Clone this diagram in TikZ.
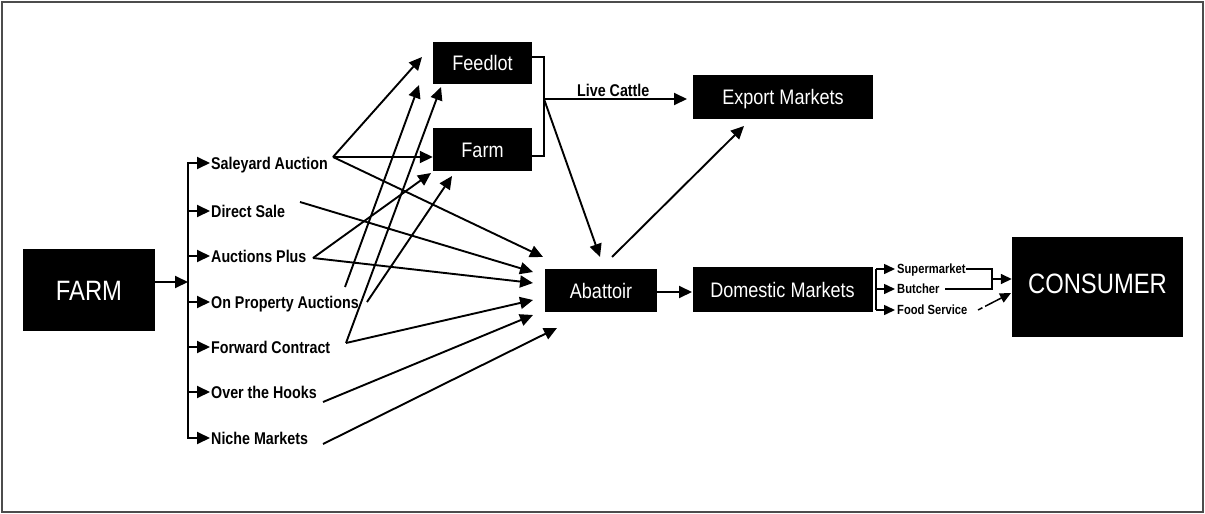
\documentclass[tikz,border=0pt]{standalone}
\usepackage{fontspec}
\setmainfont{Liberation Sans}
\newfontfamily\labfont[FakeStretch=0.84]{Liberation Sans}
\newfontfamily\boxfontA[FakeStretch=0.86]{Liberation Sans}
\newfontfamily\bigfontA[FakeStretch=0.85]{Liberation Sans}
\usetikzlibrary{arrows.meta}
\begin{document}
\begin{tikzpicture}[x=1pt,y=-1pt,
  ln/.style={line width=1.9pt},
  arr/.style={line width=1.9pt,-{Triangle[length=13pt,width=12pt]}},
  sarr/.style={line width=1.5pt,-{Triangle[length=11pt,width=10pt]}},
  blk/.style={fill=black,text=white,inner sep=0pt,
    font=\boxfontA\fontsize{21}{21}\selectfont,text height=15pt,text depth=0pt},
  bigblk/.style={blk,font=\bigfontA\fontsize{28}{28}\selectfont,text height=20pt},
  lab/.style={anchor=base west,inner sep=0pt,font=\labfont\bfseries\fontsize{17}{17}\selectfont},
  slab/.style={anchor=base west,inner sep=0pt,font=\labfont\bfseries\fontsize{13.3}{14}\selectfont},
]
\useasboundingbox (0,0) rectangle (1205,514);
\draw[black!70,line width=1.3pt] (2,2) rectangle (1203,512);

% boxes
\node[bigblk,minimum width=132pt,minimum height=82pt] (farmL) at (89,290) {FARM};
\node[blk,minimum width=99pt,minimum height=42pt] (feedlot) at (482.5,63) {Feedlot};
\node[blk,minimum width=99pt,minimum height=43pt] (farmF) at (482.5,149.5) {Farm};
\node[blk,minimum width=180pt,minimum height=44pt] (export) at (783,97) {Export Markets};
\node[blk,minimum width=112pt,minimum height=43pt] (abattoir) at (601,290.5) {Abattoir};
\node[blk,minimum width=180pt,minimum height=45pt] (domestic) at (782.5,289.5) {Domestic Markets};
\node[bigblk,minimum width=171pt,minimum height=100pt,text depth=8pt] (consumer) at (1097.5,287) {CONSUMER};

% first-level labels
\node[lab] (l1) at (211,169) {Saleyard Auction};
\node[lab] (l2) at (211,217) {Direct Sale};
\node[lab] (l3) at (211,262) {Auctions Plus};
\node[lab] (l4) at (211,308) {On Property Auctions};
\node[lab] (l5) at (211,353) {Forward Contract};
\node[lab] (l6) at (211,398) {Over the Hooks};
\node[lab] (l7) at (211,444) {Niche Markets};

% tree from FARM
\coordinate (vt) at (188,163);
\coordinate (vb) at (188,438);
\coordinate (fj) at (188,282);
\draw[ln,line cap=rect] (vt) -- (vb);
\draw[arr] (farmL.east |- fj) -- (fj);
\foreach \y [count=\i] in {163,211,256,302,347,392,438}{
  \coordinate (b\i) at (188,\y);
  \coordinate (t\i) at (210,\y);
  \draw[arr] (b\i) -- (t\i);
}

% start points of crossing lines
\coordinate (s1) at (333,157);
\coordinate (ds) at (300,202);
\coordinate (ap) at (313,258);
\coordinate (op1) at (345,287);
\coordinate (op2) at (367,302);
\coordinate (fc) at (346,343);
\coordinate (oh) at (323,402);
\coordinate (nm) at (323,444);
% tips
\coordinate (tf1) at (422,57);
\coordinate (tf2) at (419,85);
\coordinate (tf3) at (441,87);
\coordinate (tm2) at (431,173);
\coordinate (tm3) at (452,176);
\coordinate (ta1) at (543,257);
\coordinate (ta2) at (533,272);
\coordinate (ta3) at (533,283);
\coordinate (ta4) at (533,300);
\coordinate (ta5) at (533,315);
\coordinate (ta6) at (557,328);

\draw[arr] (s1) -- (tf1);
\draw[arr] (s1) -- (farmF.west |- s1);
\draw[arr] (s1) -- (ta1);
\draw[arr] (ds) -- (ta2);
\draw[arr] (ap) -- (tm2);
\draw[arr] (ap) -- (ta3);
\draw[arr] (op1) -- (tf2);
\draw[arr] (op2) -- (tm3);
\draw[arr] (fc) -- (tf3);
\draw[arr] (fc) -- (ta4);
\draw[arr] (oh) -- (ta5);
\draw[arr] (nm) -- (ta6);

% bracket of Feedlot / Farm
\coordinate (bk1) at (544,57);
\coordinate (bk2) at (544,156);
\coordinate (lc) at (544,99);
\coordinate (tex) at (687,99);
\coordinate (tab) at (600,257);
\draw[ln] (feedlot.east |- bk1) -- (bk1) -- (bk2) -- (farmF.east |- bk2);
\draw[arr] (lc) -- (tex);
\node[lab] (live) at (577,96) {Live Cattle};
\draw[arr] (lc) -- (tab);

% Abattoir
\coordinate (aex) at (612,257);
\coordinate (tex2) at (744,126);
\draw[arr] (aex) -- (tex2);
\coordinate (adj) at (657,292);
\coordinate (tdm) at (692,292);
\draw[arr] (abattoir.east |- adj) -- (tdm);

% domestic outlets
\coordinate (dv1) at (876,269);
\coordinate (dv2) at (876,289);
\coordinate (dv3) at (876,310);
\draw[line width=1.5pt] (dv1) -- (dv3);
\draw[sarr] (dv1) -- (895,269);
\draw[sarr] (dv2) -- (895,289);
\draw[sarr] (dv3) -- (895,310);
\node[slab] (sm) at (897,273.8) {Supermarket};
\node[slab] (bu) at (897,293.8) {Butcher};
\node[slab] (fs) at (897,314.8) {Food Service};
\coordinate (sme) at (966,269);
\coordinate (cj1) at (992,269);
\coordinate (cj2) at (992,289);
\coordinate (bte) at (945,289);
\coordinate (cjm) at (992,279);
\draw[line width=1.5pt] (sme) -- (cj1) -- (cj2) -- (bte);
\draw[sarr] (cjm) -- (consumer.west |- cjm);
\coordinate (fse) at (978,310);
\coordinate (tfs) at (1011,293);
\draw[sarr,dash pattern=on 5pt off 3pt on 60pt] (fse) -- (tfs);
\end{tikzpicture}
\end{document}
